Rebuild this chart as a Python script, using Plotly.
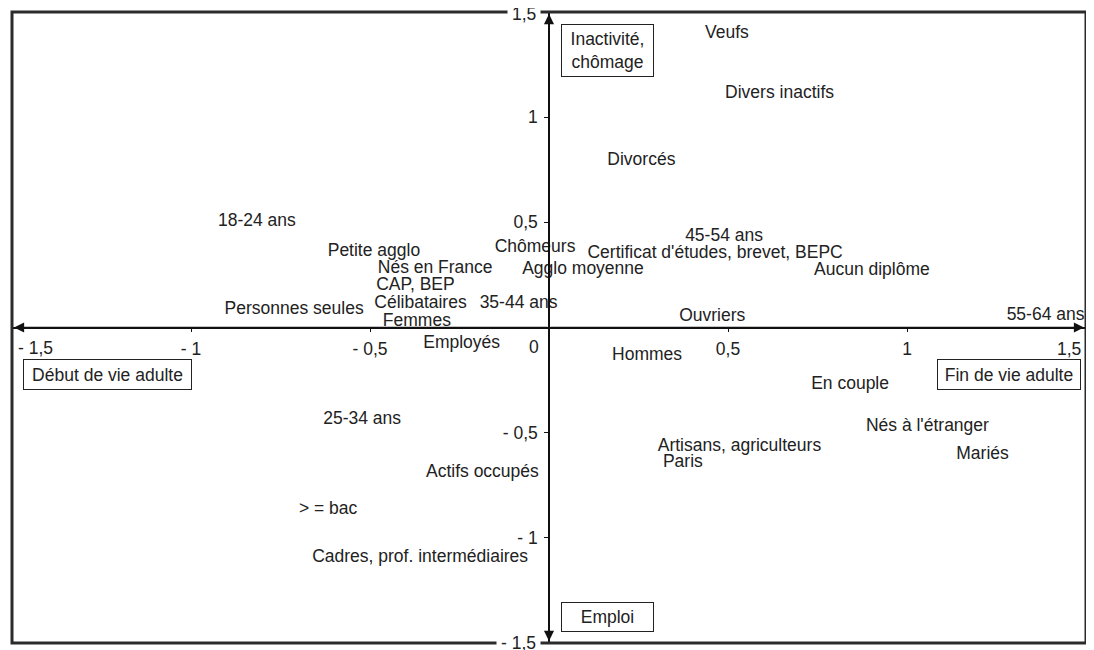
import plotly.graph_objects as go

# ---- data (factor coordinates) ----
labels = ["Veufs", "Divers inactifs", "Divorcés", "18-24 ans", "45-54 ans",
          "Chômeurs", "Certificat d'études, brevet, BEPC", "Petite agglo",
          "Nés en France", "Agglo moyenne", "Aucun diplôme", "CAP, BEP",
          "Personnes seules", "Célibataires", "35-44 ans", "Femmes",
          "Ouvriers", "55-64 ans", "Employés", "Hommes", "En couple",
          "25-34 ans", "Nés à l'étranger", "Artisans, agriculteurs", "Mariés",
          "Paris", "Actifs occupés", "> = bac", "Cadres, prof. intermédiaires"]
x_vals = [0.497, 0.644, 0.258, -0.816, 0.489,
          -0.039, 0.464, -0.489,
          -0.318, 0.095, 0.902, -0.373,
          -0.712, -0.359, -0.085, -0.369,
          0.456, 1.387, -0.244, 0.274, 0.841,
          -0.522, 1.057, 0.532, 1.211,
          0.374, -0.186, -0.617, -0.360]
y_vals = [1.395, 1.110, 0.795, 0.505, 0.433,
          0.380, 0.352, 0.362,
          0.281, 0.276, 0.271, 0.200,
          0.086, 0.114, 0.114, 0.029,
          0.052, 0.057, -0.076, -0.133, -0.271,
          -0.438, -0.471, -0.565, -0.605,
          -0.641, -0.689, -0.867, -1.095]

# axis pole labels (boxed)
pole_labels = ["Inactivité,<br>chômage", "Emploi", "Début de vie adulte", "Fin de vie adulte"]
pole_x = [0.162, 0.162, -1.233, 1.285]
pole_y = [1.319, -1.376, -0.224, -0.224]
pole_w = [85, 85, 161, 136]
pole_h = [45, 22, 23, 23]

tick_vals = [-1, -0.5, 0.5, 1]
tick_text = ["- 1", "- 0,5", "0,5", "1"]

FONT = "Arial, Liberation Sans, Helvetica, sans-serif"
FS = 17.5
INK = "#222222"

fig = go.Figure()
fig.add_trace(go.Scatter(
    x=x_vals, y=y_vals, text=labels, mode="text",
    textposition="middle center",
    textfont=dict(family=FONT, size=FS, color=INK),
    hoverinfo="skip", showlegend=False))

# the page body has an 8px margin: size the figure so the plot area lands
# at the reference position (12..1086 x 12..643 in the window)
fig.update_layout(
    width=1086, height=642,
    margin=dict(l=4, r=8, t=4, b=7),
    paper_bgcolor="white", plot_bgcolor="white",
    font=dict(family=FONT, size=FS, color=INK),
    showlegend=False,
    xaxis=dict(range=[-1.5, 1.5], anchor="free", position=0.5,
               showline=True, linecolor="#111", linewidth=1.5,
               ticks="outside", ticklen=4, tickwidth=1, tickcolor="#111",
               tickvals=tick_vals, ticktext=tick_text, ticklabelstandoff=2,
               showgrid=False, zeroline=False, fixedrange=True),
    yaxis=dict(range=[-1.5, 1.5], anchor="free", position=0.5, domain=[0, 1],
               showline=True, linecolor="#111", linewidth=1.5,
               ticks="outside", ticklen=4, tickwidth=1, tickcolor="#111",
               tickvals=tick_vals, ticktext=tick_text, ticklabelstandoff=3,
               showgrid=False, zeroline=False, fixedrange=True),
)

# frame
fig.add_shape(type="rect", xref="paper", yref="paper", x0=0, y0=0, x1=1, y1=1,
              line=dict(color="#2b2b2b", width=3), layer="above")

# arrowheads on both axes
for (ex, ey) in [(1.5, 0), (-1.5, 0), (0, 1.5), (0, -1.5)]:
    fig.add_annotation(x=ex, y=ey, ax=0, ay=0, xref="x", yref="y", axref="x", ayref="y",
                       text="", showarrow=True, arrowhead=2, arrowsize=1.35,
                       arrowwidth=1.5, arrowcolor="#111", standoff=2)

# special tick labels
fig.add_annotation(x=0, y=0, xref="x", yref="y", text="0", showarrow=False,
                   xshift=-15, yshift=-19, font=dict(size=FS, color=INK))
fig.add_annotation(x=-1.5, y=0, xref="x", yref="y", text="- 1,5", showarrow=False,
                   xanchor="left", xshift=4, yshift=-20, font=dict(size=FS, color=INK))
fig.add_annotation(x=1.5, y=0, xref="x", yref="y", text="1,5", showarrow=False,
                   xanchor="right", xshift=-3, yshift=-21, font=dict(size=FS, color=INK))
fig.add_annotation(x=0, y=1.5, xref="x", yref="y", text="1,5", showarrow=False,
                   xanchor="right", xshift=-8, yshift=-2, bgcolor="white", borderpad=4,
                   font=dict(size=FS, color=INK))
fig.add_annotation(x=0, y=-1.5, xref="x", yref="y", text="- 1,5", showarrow=False,
                   xanchor="right", xshift=-8, yshift=0, bgcolor="white", borderpad=4,
                   font=dict(size=FS, color=INK))

# boxed pole labels
for t, px, py, w, h in zip(pole_labels, pole_x, pole_y, pole_w, pole_h):
    fig.add_annotation(x=px, y=py, xref="x", yref="y", text=t, showarrow=False,
                       width=w, height=h, align="center",
                       bordercolor="#222", borderwidth=1, borderpad=3,
                       bgcolor="white", font=dict(size=FS, color=INK))

fig.write_html("out.html")
